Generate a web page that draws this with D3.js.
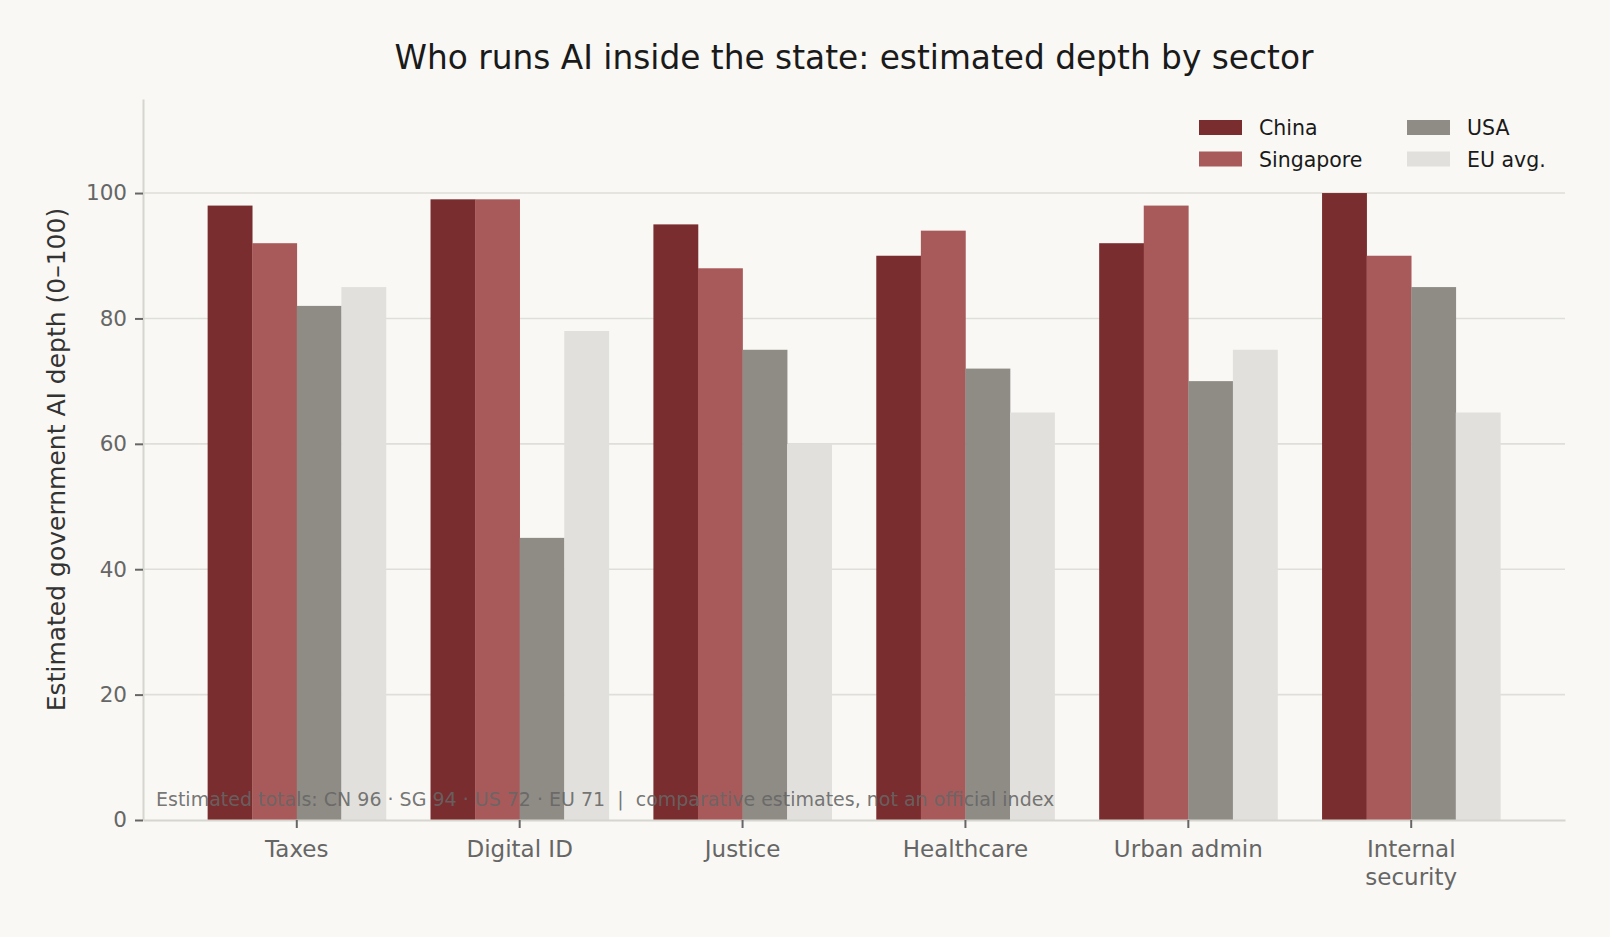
<!DOCTYPE html>
<html>
<head>
<meta charset="utf-8">
<script src="https://cdn.jsdelivr.net/npm/d3@7"></script>
<style>
  body { margin: 0; background: #f9f8f4; }
  text { font-family: "DejaVu Sans", sans-serif; }
</style>
</head>
<body>
<div id="chart"></div>
<script>
// data
var sectors = ["Taxes", "Digital ID", "Justice", "Healthcare", "Urban admin", "Internal\nsecurity"];
var seriesNames = ["China", "Singapore", "USA", "EU avg."];
var china = [98, 99, 95, 90, 92, 100];
var singapore = [92, 99, 88, 94, 98, 90];
var usa = [82, 45, 75, 72, 70, 85];
var euAvg = [85, 78, 60, 65, 75, 65];
var yTicks = [0, 20, 40, 60, 80, 100];
var colors = ["#7a2d2e", "#a85a5a", "#8e8c85", "#e1e0dc"];

var seriesValues = [china, singapore, usa, euAvg];

// svg sizes
var svgWidth = 1610;
var svgHeight = 937;

var margin = { top: 99, right: 45, bottom: 117, left: 143 };
var width = svgWidth - margin.left - margin.right;
var height = svgHeight - margin.top - margin.bottom;

var svg = d3.select("#chart")
  .append("svg")
  .attr("width", svgWidth)
  .attr("height", svgHeight)
  .style("background", "#f9f8f4");

var chartGroup = svg.append("g")
  .attr("transform", `translate(${margin.left}, ${margin.top})`);

// build rows for grouped bars
var rows = sectors.map(function(s, i) {
  return { sector: s, values: seriesNames.map(function(n, j) { return { name: n, value: seriesValues[j][i], idx: j }; }) };
});

// scales
var x0 = d3.scaleBand()
  .domain(sectors)
  .range([0, width])
  .paddingInner(0.2)
  .paddingOuter(0.29);

var x1 = d3.scaleBand()
  .domain(seriesNames)
  .range([0, x0.bandwidth()])
  .padding(0);

var y = d3.scaleLinear()
  .domain([0, 115])
  .range([height, 0]);

// gridlines
chartGroup.append("g")
  .selectAll("line")
  .data(yTicks.slice(1))
  .enter()
  .append("line")
  .attr("x1", 0)
  .attr("x2", width)
  .attr("y1", d => y(d))
  .attr("y2", d => y(d))
  .attr("stroke", "#dfded9")
  .attr("stroke-width", 1.6);

// bars
var groups = chartGroup.selectAll(".group")
  .data(rows)
  .enter()
  .append("g")
  .attr("transform", d => `translate(${x0(d.sector)}, 0)`);

groups.selectAll("rect")
  .data(d => d.values)
  .enter()
  .append("rect")
  .attr("x", d => x1(d.name))
  .attr("y", d => y(d.value))
  .attr("width", x1.bandwidth() + 0.3)
  .attr("height", d => height - y(d.value))
  .attr("fill", d => colors[d.idx]);

// footnote on top of bars
chartGroup.append("text")
  .attr("x", 13)
  .attr("y", height - 14)
  .attr("font-size", "19px")
  .attr("fill", "#666")
  .attr("fill-opacity", 0.9)
  .style("white-space", "pre")
  .text("Estimated totals: CN 96 \u00b7 SG 94 \u00b7 US 72 \u00b7 EU 71  |  comparative estimates, not an official index");

// left axis
var leftAxis = d3.axisLeft(y).tickValues(yTicks).tickSizeInner(8).tickSizeOuter(0).tickPadding(8);
var yAxis = chartGroup.append("g").call(leftAxis);
yAxis.select(".domain").attr("stroke", "#d6d5d0").attr("stroke-width", 2);
yAxis.selectAll(".tick line").attr("stroke", "#666").attr("stroke-width", 2);
yAxis.selectAll(".tick text")
  .attr("fill", "#666")
  .attr("font-size", "21.5px")
  .attr("font-family", "DejaVu Sans, sans-serif");

// bottom axis
var bottomAxis = d3.axisBottom(x0).tickSizeInner(8).tickSizeOuter(0).tickPadding(8).tickFormat("");
var xAxis = chartGroup.append("g")
  .attr("transform", `translate(0, ${height})`)
  .call(bottomAxis);
xAxis.select(".domain").attr("stroke", "#d6d5d0").attr("stroke-width", 2);
xAxis.selectAll(".tick line").attr("stroke", "#666").attr("stroke-width", 2);

// multi-line tick labels
xAxis.selectAll(".tick").each(function(d) {
  var t = d3.select(this).append("text")
    .attr("fill", "#666")
    .attr("font-size", "23px")
    .attr("text-anchor", "middle")
    .attr("y", 37);
  d.split("\n").forEach(function(line, i) {
    t.append("tspan").attr("x", 0).attr("dy", i === 0 ? 0 : 27.5).text(line);
  });
});

// y axis label
chartGroup.append("text")
  .attr("transform", "rotate(-90)")
  .attr("x", -height / 2)
  .attr("y", -margin.left + 65)
  .attr("text-anchor", "middle")
  .attr("font-size", "25px")
  .attr("fill", "#333")
  .text("Estimated government AI depth (0\u2013100)");

// title
svg.append("text")
  .attr("x", margin.left + width / 2)
  .attr("y", 69)
  .attr("text-anchor", "middle")
  .attr("font-size", "32.8px")
  .attr("fill", "#1a1a1a")
  .text("Who runs AI inside the state: estimated depth by sector");

// legend, 2 columns
var legend = svg.append("g");
var legendItems = legend.selectAll("g")
  .data(seriesNames)
  .enter()
  .append("g")
  .attr("transform", (d, i) => `translate(${1199 + Math.floor(i / 2) * 208}, ${120 + (i % 2) * 31.5})`);

legendItems.append("rect")
  .attr("width", 43)
  .attr("height", 15)
  .attr("fill", (d, i) => colors[i]);

legendItems.append("text")
  .attr("x", 60)
  .attr("y", 15)
  .attr("font-size", "20.5px")
  .attr("fill", "#1a1a1a")
  .text(d => d);
</script>
</body>
</html>
